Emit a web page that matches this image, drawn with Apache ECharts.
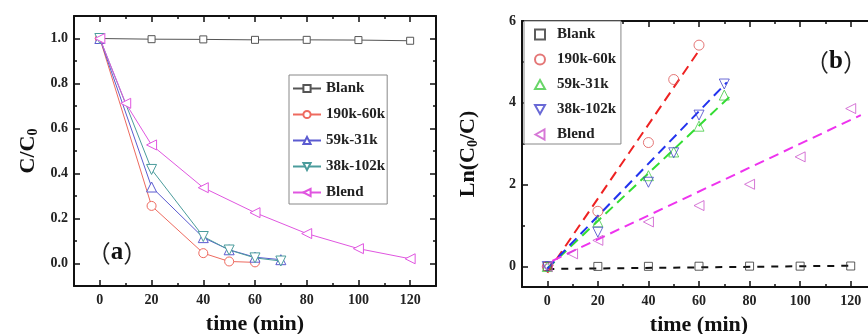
<!DOCTYPE html>
<html><head><meta charset="utf-8">
<script src="https://cdn.jsdelivr.net/npm/echarts@6/dist/echarts.min.js"></script>
<style>html,body{margin:0;padding:0;background:#fff}#c{width:868px;height:334px}</style>
</head><body><div id="c"></div>
<script>
// ---------- tick values ----------
const xMajor = [0, 20, 40, 60, 80, 100, 120];
const xMinor = [10, 30, 50, 70, 90, 110];
const yMajorA = [0, 0.2, 0.4, 0.6, 0.8, 1.0];
const yMinorA = [0.1, 0.3, 0.5, 0.7, 0.9];
const yMajorB = [0, 2, 4, 6];
const yMinorB = [1, 3, 5];
const names = ['Blank', '190k-60k', '59k-31k', '38k-102k', 'Blend'];

// ---------- times (min) ----------
const tBlank = [0, 20, 40, 60, 80, 100, 120];
const t190 = [0, 20, 40, 50, 60];
const t59 = [0, 20, 40, 50, 60, 70];
const t38 = [0, 20, 40, 50, 60, 70];
const tBlend = [0, 10, 20, 40, 60, 80, 100, 120];

// ---------- panel (a): C/C0 ----------
const cBlank = [1.0, 0.997, 0.996, 0.994, 0.994, 0.993, 0.99];
const c190 = [1.0, 0.256, 0.046, 0.009, 0.005];
const c59 = [1.0, 0.34, 0.115, 0.061, 0.028, 0.017];
const c38 = [1.0, 0.418, 0.12, 0.06, 0.025, 0.011];
const cBlend = [1.0, 0.712, 0.527, 0.337, 0.226, 0.133, 0.066, 0.021];

// ---------- panel (b): Ln(C0/C) ----------
const lnBlank = [0, 0.003, 0.005, 0.008, 0.01, 0.01, 0.013];
const ln190 = [0, 1.35, 3.03, 4.57, 5.41];
const ln59 = [0, 1.09, 2.22, 2.8, 3.43, 4.19];
const ln38 = [0, 0.84, 2.06, 2.78, 3.7, 4.46];
const lnBlend = [0, 0.31, 0.64, 1.09, 1.49, 2.01, 2.68, 3.86];

// ---------- linear fits (start / end points, data units) ----------
const fitBlank = [[0, -0.06], [120, 0.02]];
const fit190 = [[0, -0.15], [60, 5.28]];
const fit59 = [[0, -0.05], [73, 4.2]];
const fit38 = [[0, -0.05], [71, 4.5]];
const fitBlend = [[2, 0.14], [124, 3.7]];

const zip = (a, b) => a.map((v, i) => [v, b[i]]);
const FONT = "'Liberation Serif', 'Times New Roman', serif";
const AXC = '#111';

const triUp = 'path://M5,0 L10,9 L0,9 Z';
const triDown = 'path://M0,0 L10,0 L5,9 Z';
const triLeft = 'path://M0,5 L9,0 L9,10 Z';

function xAxes(grid) {
  const base = {
    gridIndex: grid, type: 'value', min: -10, max: 130,
    splitLine: { show: false },
  };
  return [
    Object.assign({}, base, {
      position: 'bottom',
      axisLine: { show: true, onZero: false, lineStyle: { color: AXC, width: 2 } },
      axisTick: { show: true, inside: true, length: 6, customValues: xMajor, lineStyle: { color: AXC, width: 1.5 } },
      axisLabel: { show: true, customValues: xMajor, fontFamily: FONT, fontWeight: 'bold', fontSize: 14, color: '#222', margin: 7 },
      name: 'time (min)', nameLocation: 'middle', nameGap: 27,
      nameTextStyle: { fontFamily: FONT, fontWeight: 'bold', fontSize: 22, color: '#111' }
    }),
    Object.assign({}, base, {
      position: 'bottom',
      axisLine: { show: false, onZero: false },
      axisTick: { show: true, inside: true, length: 3, customValues: xMinor, lineStyle: { color: AXC, width: 1.5 } },
      axisLabel: { show: false }
    }),
    Object.assign({}, base, {
      position: 'top',
      axisLine: { show: true, onZero: false, lineStyle: { color: AXC, width: 2 } },
      axisTick: { show: true, inside: true, length: 6, customValues: xMajor, lineStyle: { color: AXC, width: 1.5 } },
      axisLabel: { show: false }
    }),
    Object.assign({}, base, {
      position: 'top',
      axisLine: { show: false, onZero: false },
      axisTick: { show: true, inside: true, length: 3, customValues: xMinor, lineStyle: { color: AXC, width: 1.5 } },
      axisLabel: { show: false }
    })
  ];
}

function yAxes(grid, min, max, major, minor, fmt, name, nameGap) {
  const base = {
    gridIndex: grid, type: 'value', min: min, max: max,
    splitLine: { show: false },
  };
  return [
    Object.assign({}, base, {
      position: 'left',
      axisLine: { show: true, onZero: false, lineStyle: { color: AXC, width: 2 } },
      axisTick: { show: true, inside: true, length: 6, customValues: major, lineStyle: { color: AXC, width: 1.5 } },
      axisLabel: { show: true, customValues: major, formatter: fmt, fontFamily: FONT, fontWeight: 'bold', fontSize: 14, color: '#222', margin: 6 },
      name: name, nameLocation: 'middle', nameGap: nameGap, nameRotate: 90,
      nameTextStyle: {
        rich: {
          m: { fontFamily: FONT, fontWeight: 'bold', fontSize: 22, color: '#111' },
          s: { fontFamily: FONT, fontWeight: 'bold', fontSize: 14, color: '#111', padding: [10, 0, 0, 0] }
        }
      }
    }),
    Object.assign({}, base, {
      position: 'left',
      axisLine: { show: false, onZero: false },
      axisTick: { show: true, inside: true, length: 3, customValues: minor, lineStyle: { color: AXC, width: 1.5 } },
      axisLabel: { show: false }
    }),
    Object.assign({}, base, {
      position: 'right',
      axisLine: { show: true, onZero: false, lineStyle: { color: AXC, width: 2 } },
      axisTick: { show: true, inside: true, length: 6, customValues: major, lineStyle: { color: AXC, width: 1.5 } },
      axisLabel: { show: false }
    }),
    Object.assign({}, base, {
      position: 'right',
      axisLine: { show: false, onZero: false },
      axisTick: { show: true, inside: true, length: 3, customValues: minor, lineStyle: { color: AXC, width: 1.5 } },
      axisLabel: { show: false }
    })
  ];
}

// panel (a) series
const colA = ['#555555', '#ee6a5f', '#5b5bd0', '#4b9c9c', '#e056e0'];
const symA = ['rect', 'circle', triUp, triDown, triLeft];
const sizeA = [7, 9, 10, 10, 10];
const dataA = [zip(tBlank, cBlank), zip(t190, c190), zip(t59, c59), zip(t38, c38), zip(tBlend, cBlend)];
const seriesA = names.map((n, i) => ({
  type: 'line', name: n, xAxisIndex: 0, yAxisIndex: 0,
  data: dataA[i], symbol: symA[i], symbolSize: sizeA[i], showAllSymbol: true,
  lineStyle: { color: colA[i], width: 1 },
  itemStyle: { color: '#fff', borderColor: colA[i], borderWidth: 1 },
  emphasis: { disabled: true }, z: 3 + i
}));

// panel (b) series
const namesB = names.map(n => n + ' ');
const colB = ['#333333', '#dd5555', '#44cc44', '#4444cc', '#cc55cc'];
const lineColB = ['#111111', '#ee2222', '#33dd33', '#2233ee', '#ee33ee'];
const dataB = [zip(tBlank, lnBlank), zip(t190, ln190), zip(t59, ln59), zip(t38, ln38), zip(tBlend, lnBlend)];
const fitsB = [fitBlank, fit190, fit59, fit38, fitBlend];
const seriesB = [];
names.forEach((n, i) => {
  seriesB.push({
    type: 'line', name: 'fit ' + n, xAxisIndex: 4, yAxisIndex: 4,
    data: fitsB[i], symbol: 'none', silent: true,
    lineStyle: { color: lineColB[i], width: 2, type: i === 0 ? [7, 7] : [10, 6] },
    emphasis: { disabled: true }, z: 2
  });
});
names.forEach((n, i) => {
  seriesB.push({
    type: 'scatter', name: namesB[i], xAxisIndex: 4, yAxisIndex: 4,
    data: dataB[i], symbol: symA[i], symbolSize: i === 0 ? 8 : 10,
    itemStyle: { color: 'rgba(255,255,255,0)', borderColor: colB[i], borderWidth: 1 },
    emphasis: { disabled: true }, z: 5
  });
});

const option = {
  animation: false,
  backgroundColor: '#fff',
  grid: [
    { left: 74, top: 16, width: 362, height: 270, outerBoundsMode: 'none', containLabel: false },
    { left: 522, top: 21, width: 354, height: 266, outerBoundsMode: 'none', containLabel: false }
  ],
  xAxis: xAxes(0).concat(xAxes(1)),
  yAxis: yAxes(0, -0.1, 1.1, yMajorA, yMinorA, v => v.toFixed(1), '{m|C/C}{s|0}', 34)
    .concat(yAxes(1, -0.5, 6, yMajorB, yMinorB, v => String(v), '{m|Ln(C}{s|0}{m|/C)}', 42)),
  legend: [
    {
      data: names, orient: 'vertical', left: 289, top: 75,
      itemWidth: 28, itemHeight: 9, itemGap: 11, padding: [6, 2, 4, 3],
      borderColor: '#888', borderWidth: 1, backgroundColor: '#fff', selectedMode: false,
      textStyle: { fontFamily: FONT, fontWeight: 'bold', fontSize: 15, color: '#222' }
    },
    {
      data: namesB, orient: 'vertical', left: 524, top: 21,
      itemWidth: 10, itemHeight: 10, itemGap: 10, padding: [6, 1, 2, 10],
      borderColor: '#888', borderWidth: 1, backgroundColor: '#fff', selectedMode: false,
      textStyle: { fontFamily: FONT, fontWeight: 'bold', fontSize: 15, color: '#222', padding: [0, 0, 0, 7] }
    }
  ],
  graphic: [
    {
      type: 'text', x: 117, y: 253, z: 10,
      style: {
        text: '{p|（}{b|a}{p|）}', align: 'center', verticalAlign: 'middle',
        rich: {
          p: { fontFamily: "'Noto Sans CJK SC'", fontSize: 24, fill: '#222' },
          b: { fontFamily: FONT, fontWeight: 'bold', fontSize: 25, fill: '#111' }
        }
      }
    },
    {
      type: 'text', x: 836, y: 62, z: 10,
      style: {
        text: '{p|（}{b|b}{p|）}', align: 'center', verticalAlign: 'middle',
        rich: {
          p: { fontFamily: "'Noto Sans CJK SC'", fontSize: 24, fill: '#222' },
          b: { fontFamily: FONT, fontWeight: 'bold', fontSize: 25, fill: '#111' }
        }
      }
    }
  ],
  series: seriesA.concat(seriesB)
};

const chart = echarts.init(document.getElementById('c'), null, { renderer: 'canvas' });
chart.setOption(option);
</script>
</body></html>
